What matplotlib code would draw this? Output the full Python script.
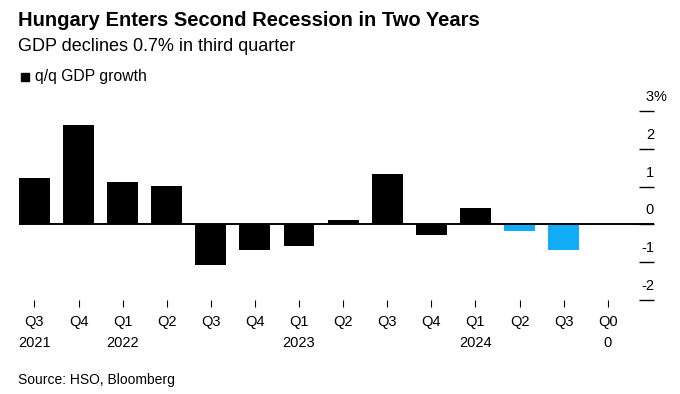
import numpy as np
import matplotlib
matplotlib.use("Agg")
import matplotlib.pyplot as plt
import matplotlib.transforms as mtransforms

# data
quarters = ["Q3 2021", "Q4 2021", "Q1 2022", "Q2 2022", "Q3 2022", "Q4 2022",
            "Q1 2023", "Q2 2023", "Q3 2023", "Q4 2023", "Q1 2024", "Q2 2024", "Q3 2024"]
growth = [1.22, 2.63, 1.12, 1.02, -1.08, -0.68, -0.58, 0.11, 1.33, -0.28, 0.42, -0.18, -0.67]
highlight = [False] * 11 + [True, True]

tick_top = ["Q3", "Q4", "Q1", "Q2", "Q3", "Q4", "Q1", "Q2", "Q3", "Q4", "Q1", "Q2", "Q3", "Q0"]
tick_bottom = ["2021", "", "2022", "", "", "", "2023", "", "", "", "2024", "", "", "0"]
y_ticks = [-2, -1, 0, 1, 2, 3]

BLACK = "#000000"
BLUE = "#12abf5"
FONT = "Liberation Sans"

fig = plt.figure(figsize=(6.8, 3.94), dpi=100)
fig.patch.set_facecolor("white")

ax = fig.add_axes([19 / 680, 94 / 394, 635 / 680, 195 / 394])
x = np.arange(len(quarters))
colors = [BLUE if h else BLACK for h in highlight]
ax.bar(x, growth, width=0.70, color=colors, zorder=2)
ax.axhline(0, color=BLACK, lw=1.4, zorder=3)
ax.set_xlim(-0.35, 14.05)
ax.set_ylim(-2.008, 3.164)

for s in ax.spines.values():
    s.set_visible(False)
ax.set_yticks([])

# category ticks: one slot more than there are bars ("Q0 0")
ax.set_xticks(np.arange(len(tick_top)))
ax.set_xticklabels([t + "\n" + b for t, b in zip(tick_top, tick_bottom)],
                   fontsize=10.5, family=FONT, linespacing=1.6)
ax.tick_params(axis="x", direction="out", length=5, width=0.8, pad=6, colors=BLACK)

# right-hand y labels sitting on short dashes
trans = mtransforms.blended_transform_factory(ax.transAxes, ax.transData)
ax.hlines(y_ticks, 620 / 635, 1.0, transform=trans, color=BLACK, lw=1.0, clip_on=False)
for v in y_ticks:
    ax.annotate(str(v), xy=(1.0, v), xycoords=trans, xytext=(0, 5), textcoords="offset points",
                ha="right", va="bottom", fontsize=10.5, family=FONT, color=BLACK)
    if v == 3:
        ax.annotate("%", xy=(1.0, v), xycoords=trans, xytext=(0, 5), textcoords="offset points",
                    ha="left", va="bottom", fontsize=10.5, family=FONT, color=BLACK)

fig.text(18 / 680, 1 - 11 / 394, "Hungary Enters Second Recession in Two Years",
         fontsize=14.5, fontweight="bold", family=FONT, ha="left", va="top")
fig.text(18 / 680, 1 - 38 / 394, "GDP declines 0.7% in third quarter",
         fontsize=13, family=FONT, ha="left", va="top")
fig.patches.append(plt.Rectangle((21 / 680, 1 - 81 / 394), 8 / 680, 8.5 / 394,
                                 transform=fig.transFigure, color=BLACK))
fig.text(35 / 680, 1 - 69 / 394, "q/q GDP growth",
         fontsize=11.3, family=FONT, ha="left", va="top")
fig.text(18 / 680, 1 - 373 / 394, "Source: HSO, Bloomberg",
         fontsize=10, family=FONT, ha="left", va="top")

fig.savefig("out.png", dpi=100)
